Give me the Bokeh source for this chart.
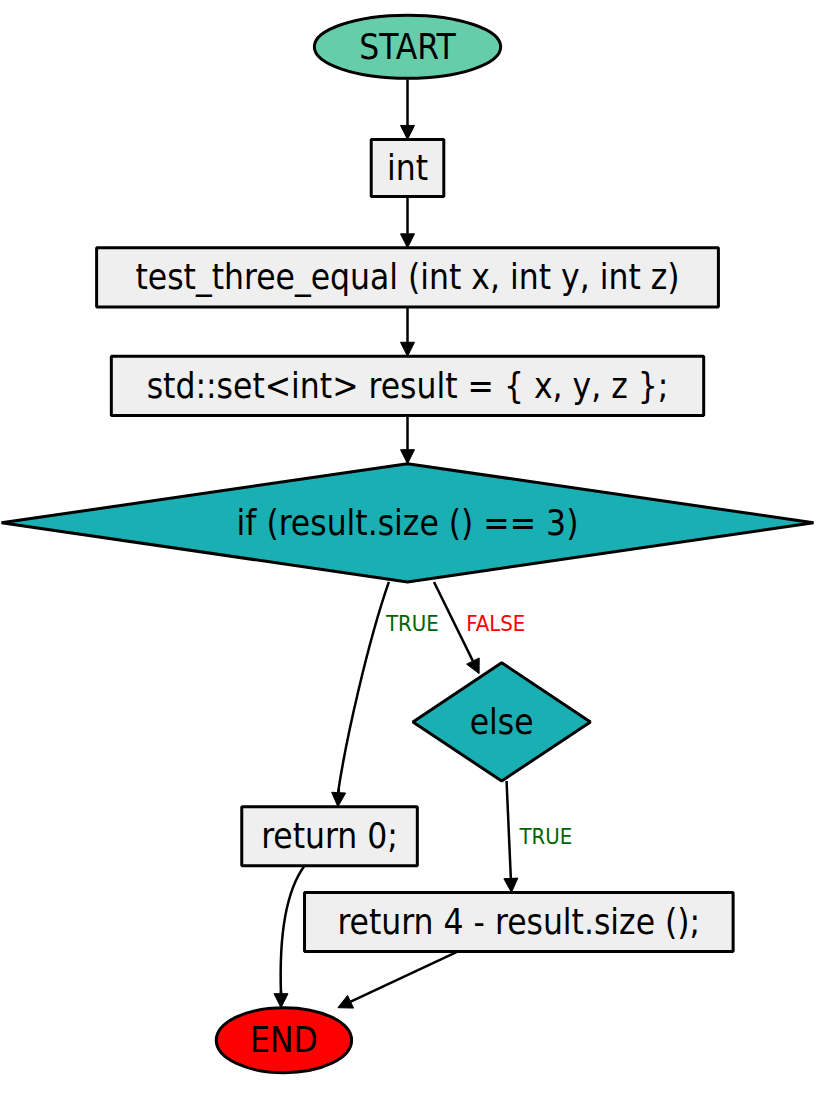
from bokeh.plotting import figure
from bokeh.models import Arrow, NormalHead, Range1d
from bokeh.core.properties import value
from bokeh.embed import file_html
from bokeh.resources import INLINE

box_labels = ["int", "test_three_equal (int x, int y, int z)", "std::set<int> result = { x, y, z };",
              "return 0;", "return 4 - result.size ();"]
box_x = [415, 415, 415, 335.5, 528.5]
box_y = [170, 281, 391, 848, 935]
box_w = [74, 634, 604, 179, 437]
box_h = [58, 60, 60, 60, 60]

ell_labels = ["START", "END"]
ell_x = [415, 289]
ell_y = [47, 1055]
ell_w = [190, 138]
ell_h = [64, 66]
ell_col = ["#66cdaa", "#ff0000"]

dia_labels = ["if (result.size () == 3)", "else"]
dia_x = [415, 511]
dia_y = [530, 732]
dia_w = [828, 181]
dia_h = [120, 120]

edge_labels = ["TRUE", "FALSE", "TRUE"]
edge_lx = [420, 505, 556]
edge_ly = [632, 632, 848]
edge_col = ["#006400", "#ff0000", "#006400"]

FONT = value("DejaVu Sans Condensed")
p = figure(width=815, height=1088, output_backend="svg", toolbar_location=None,
           x_range=Range1d(0, 831), y_range=Range1d(1104, 0), min_border=0)
p.axis.visible = False
p.grid.visible = False
p.outline_line_color = None

def arrow(x0, y0, x1, y1):
    p.add_layout(Arrow(end=NormalHead(size=14, fill_color="black", line_color="black"),
                       x_start=x0, y_start=y0, x_end=x1, y_end=y1, line_width=2.5))

arrow(415, 80, 415, 141)
arrow(415, 199, 415, 251)
arrow(415, 311, 415, 361)
arrow(415, 421, 415, 470)
p.bezier(x0=[396], y0=[590], x1=[344], y1=[805], cx0=[375], cy0=[650], cx1=[352], cy1=[750],
         line_width=2.5, line_color="black")
arrow(345, 800, 344, 818)
arrow(442, 590, 488, 683)
arrow(516, 792, 521, 905)
p.bezier(x0=[310], y0=[878], x1=[286], y1=[1008], cx0=[290], cy0=[905], cx1=[284], cy1=[950],
         line_width=2.5, line_color="black")
arrow(286, 1005, 286, 1022)
arrow(466, 965, 344, 1022)

p.rect(box_x, box_y, box_w, box_h, fill_color="#efefef", line_color="black", line_width=3)
p.ellipse(ell_x, ell_y, ell_w, ell_h, fill_color=ell_col, line_color="black", line_width=3)
xs = [[x - w / 2, x, x + w / 2, x] for x, w in zip(dia_x, dia_w)]
ys = [[y, y - h / 2, y, y + h / 2] for y, h in zip(dia_y, dia_h)]
p.patches(xs, ys, fill_color="#1aafb3", line_color="black", line_width=3)

for lx, ly, lt in [(box_x, box_y, box_labels), (ell_x, ell_y, ell_labels), (dia_x, dia_y, dia_labels)]:
    p.text(lx, ly, text=lt, text_font=FONT, text_font_size="35px", text_align="center",
           text_baseline="middle", text_color="black")
p.text(edge_lx, edge_ly, text=edge_labels, text_color=edge_col, text_font=FONT,
       text_font_size="22px", text_align="center", text_baseline="middle")

open("out.html", "w").write(file_html(p, INLINE))
